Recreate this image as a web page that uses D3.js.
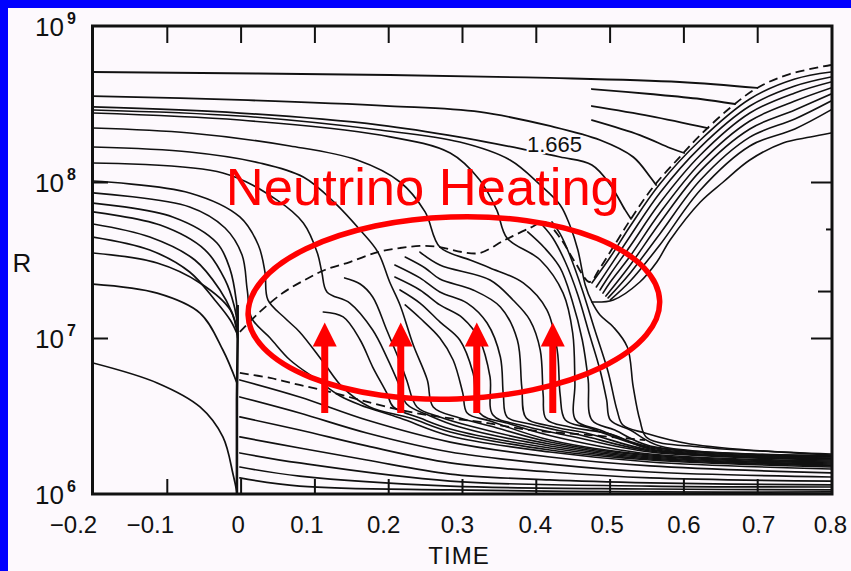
<!DOCTYPE html>
<html>
<head>
<meta charset="utf-8">
<script src="https://cdn.jsdelivr.net/npm/d3@7"></script>
<style>
  html, body { margin: 0; padding: 0; background: #fdf9fd; }
  svg { display: block; }
</style>
</head>
<body>
<svg id="chart" width="851" height="571"></svg>
<script>
// ---- axis values --------------------------------------------------------
const xTickValues = [-0.2, -0.1, 0, 0.1, 0.2, 0.3, 0.4, 0.5, 0.6, 0.7, 0.8];
const xTickLabels = ["\u22120.2", "\u22120.1", "0", "0.1", "0.2", "0.3", "0.4", "0.5", "0.6", "0.7", "0.8"];
const yDecades = [6, 7, 8, 9];
const xTitle = "TIME";
const yTitle = "R";

// ---- trajectories: [time (s), log10 R (cm)] -----------------------------
// shock front (dashed)
const shockFront = [[-0.001,7.039],[0.026,7.167],[0.057,7.288],[0.087,7.372],[0.114,7.436],[0.148,7.487],[0.186,7.551],[0.216,7.577],[0.243,7.590],[0.270,7.583],[0.300,7.551],[0.324,7.545],[0.358,7.628],[0.392,7.705],[0.412,7.744],[0.433,7.641],[0.453,7.487],[0.473,7.359],[0.487,7.449],[0.505,7.583],[0.528,7.757],[0.559,7.968],[0.595,8.160],[0.623,8.301],[0.663,8.474],[0.700,8.603],[0.744,8.692],[0.8,8.750]];
// lower edge of the heated layer (dashed)
const gainEdge = [[-0.001,6.776],[0.040,6.744],[0.080,6.699],[0.121,6.654],[0.162,6.603],[0.216,6.539],[0.270,6.494],[0.324,6.462],[0.392,6.410],[0.473,6.378],[0.548,6.346]];
// core bounce
const bounceTrack = [[-0.004,7.212],[-0.004,6.987],[-0.005,6.603],[-0.005,6.218],[-0.005,6.006]];

// shells falling straight into the core before bounce
const infallShells = [
  [[-0.2,7.865],[-0.092,7.776],[-0.032,7.609],[-0.014,7.436],[-0.006,7.244],[-0.004,7.115]],
  [[-0.2,7.808],[-0.109,7.724],[-0.048,7.564],[-0.021,7.372],[-0.009,7.212],[-0.004,7.083]],
  [[-0.2,7.731],[-0.123,7.647],[-0.062,7.500],[-0.028,7.308],[-0.012,7.167],[-0.004,7.051]],
  [[-0.2,7.647],[-0.123,7.564],[-0.069,7.423],[-0.035,7.244],[-0.014,7.115],[-0.004,7.019]],
  [[-0.2,7.545],[-0.113,7.481],[-0.055,7.353],[-0.014,7.180],[-0.004,7.000]],
  [[-0.2,7.346],[-0.113,7.288],[-0.055,7.160],[-0.024,6.923],[-0.005,6.712]],
  [[-0.2,6.840],[-0.113,6.712],[-0.055,6.558],[-0.024,6.366],[-0.010,6.122],[-0.005,6.013]]
];

// inner core shells after bounce
const coreShells = [
  [[-0.001,6.103],[0.080,6.051],[0.284,6.026],[0.555,6.013],[0.8,6.013]],
  [[-0.001,6.173],[0.080,6.115],[0.284,6.051],[0.555,6.032],[0.8,6.026]],
  [[-0.001,6.263],[0.080,6.199],[0.284,6.083],[0.555,6.051],[0.8,6.045]],
  [[-0.001,6.366],[0.080,6.295],[0.171,6.218],[0.284,6.128],[0.419,6.090],[0.555,6.071],[0.8,6.058]],
  [[-0.001,6.494],[0.080,6.410],[0.171,6.308],[0.284,6.199],[0.419,6.141],[0.555,6.103],[0.8,6.083]],
  [[-0.001,6.622],[0.080,6.519],[0.171,6.391],[0.284,6.269],[0.419,6.192],[0.555,6.141],[0.8,6.109]],
  [[-0.001,6.731],[0.080,6.622],[0.171,6.474],[0.284,6.333],[0.419,6.237],[0.555,6.180],[0.8,6.135]]
];

// shells crossing the stalled shock and settling onto the core
const heatedShells = [
  [[-0.2,7.930],[-0.069,7.840],[-0.021,7.705],[0.002,7.532],[0.009,7.308],[0.015,7.128],[0.040,7.000],[0.067,6.859],[0.104,6.731],[0.135,6.628],[0.162,6.571],[0.216,6.487],[0.284,6.372],[0.419,6.269],[0.555,6.205],[0.8,6.160]],
  [[-0.2,8.006],[-0.069,7.930],[-0.001,7.776],[0.024,7.596],[0.033,7.423],[0.037,7.244],[0.060,7.128],[0.080,7.039],[0.112,6.846],[0.139,6.680],[0.175,6.558],[0.230,6.487],[0.284,6.398],[0.419,6.282],[0.555,6.218],[0.8,6.173]],
  [[0.112,7.167],[0.139,7.135],[0.162,6.987],[0.179,6.814],[0.198,6.648],[0.207,6.558],[0.243,6.487],[0.284,6.417],[0.419,6.295],[0.555,6.224],[0.8,6.180]],
  [[-0.2,8.122],[-0.024,8.058],[0.049,7.885],[0.085,7.737],[0.104,7.545],[0.110,7.423],[0.117,7.295],[0.148,7.224],[0.179,7.051],[0.198,6.878],[0.216,6.686],[0.225,6.577],[0.257,6.500],[0.297,6.429],[0.419,6.308],[0.555,6.231],[0.8,6.186]],
  [[0.141,7.385],[0.162,7.346],[0.179,7.263],[0.198,7.051],[0.216,6.846],[0.225,6.731],[0.239,6.558],[0.270,6.494],[0.311,6.436],[0.419,6.321],[0.555,6.237],[0.8,6.192]],
  [[-0.2,8.224],[-0.069,8.192],[0.026,8.122],[0.085,8.032],[0.128,7.865],[0.162,7.692],[0.186,7.551],[0.202,7.359],[0.216,7.212],[0.234,6.955],[0.253,6.731],[0.261,6.558],[0.297,6.487],[0.338,6.436],[0.419,6.333],[0.555,6.244],[0.8,6.199]],
  [[0.223,7.212],[0.243,7.128],[0.270,7.000],[0.288,6.859],[0.301,6.648],[0.307,6.519],[0.338,6.468],[0.419,6.346],[0.555,6.250],[0.8,6.205]],
  [[0.216,7.308],[0.243,7.224],[0.270,7.103],[0.297,6.987],[0.315,6.776],[0.324,6.519],[0.365,6.449],[0.433,6.359],[0.555,6.256],[0.8,6.212]],
  [[0.209,7.391],[0.243,7.308],[0.270,7.212],[0.301,7.128],[0.324,6.987],[0.338,6.750],[0.342,6.506],[0.379,6.442],[0.446,6.372],[0.555,6.269],[0.8,6.218]],
  [[0.209,7.468],[0.243,7.385],[0.270,7.295],[0.307,7.224],[0.334,7.096],[0.352,6.878],[0.356,6.635],[0.361,6.494],[0.392,6.449],[0.460,6.378],[0.555,6.276],[0.8,6.224]],
  [[0.223,7.519],[0.250,7.449],[0.270,7.378],[0.315,7.308],[0.352,7.199],[0.375,6.987],[0.381,6.686],[0.387,6.487],[0.419,6.436],[0.473,6.385],[0.555,6.282],[0.8,6.226]],
  [[0.243,7.551],[0.270,7.468],[0.338,7.372],[0.369,7.244],[0.392,7.115],[0.406,6.923],[0.410,6.635],[0.414,6.481],[0.446,6.429],[0.501,6.385],[0.555,6.289],[0.8,6.231]],
  [[-0.2,8.346],[-0.069,8.314],[0.067,8.231],[0.158,8.141],[0.216,8.0],[0.250,7.808],[0.270,7.583],[0.311,7.500],[0.338,7.449],[0.383,7.353],[0.415,7.180],[0.429,6.923],[0.433,6.635],[0.440,6.474],[0.473,6.423],[0.555,6.295],[0.8,6.237]],
  [[-0.2,8.442],[-0.001,8.397],[0.189,8.301],[0.284,8.186],[0.324,8.013],[0.347,7.821],[0.361,7.641],[0.406,7.500],[0.437,7.288],[0.450,7.032],[0.453,6.712],[0.454,6.474],[0.487,6.410],[0.555,6.301],[0.8,6.240]],
  [[0.389,7.680],[0.412,7.577],[0.433,7.449],[0.449,7.244],[0.463,6.987],[0.471,6.731],[0.476,6.474],[0.507,6.410],[0.555,6.308],[0.8,6.244]],
  [[0.410,7.718],[0.423,7.641],[0.440,7.487],[0.457,7.276],[0.473,7.019],[0.487,6.795],[0.496,6.603],[0.501,6.474],[0.528,6.410],[0.568,6.308],[0.8,6.247]],
  [[0.422,7.744],[0.433,7.667],[0.446,7.532],[0.463,7.308],[0.480,7.051],[0.498,6.782],[0.510,6.539],[0.518,6.442],[0.548,6.391],[0.609,6.321],[0.8,6.250]],
  [[-0.2,8.462],[-0.001,8.423],[0.189,8.333],[0.297,8.256],[0.365,8.141],[0.406,7.981],[0.433,7.853],[0.446,7.724],[0.457,7.564],[0.467,7.340],[0.476,7.231],[0.487,7.147],[0.505,7.071],[0.524,6.942],[0.532,6.686],[0.541,6.474],[0.551,6.359],[0.623,6.301],[0.704,6.276],[0.8,6.256]]
];

// outer shells overtaken by the revived shock
const outerShells = [
  [[-0.2,8.705],[0.202,8.686],[0.419,8.667],[0.595,8.641],[0.700,8.603]],
  [[0.476,8.596],[0.555,8.564],[0.623,8.532],[0.670,8.500]],
  [[0.476,8.487],[0.555,8.423],[0.633,8.346]],
  [[0.476,8.397],[0.541,8.301],[0.582,8.218],[0.601,8.186]],
  [[-0.2,8.551],[-0.001,8.526],[0.202,8.487],[0.324,8.449],[0.419,8.359],[0.487,8.269],[0.532,8.160],[0.555,8.032],[0.563,7.981]]
];
// the shell carrying the mass label
const markedShell = [[-0.2,8.481],[-0.001,8.442],[0.189,8.365],[0.297,8.288],[0.388,8.205],[0.433,8.160],[0.476,8.109],[0.501,7.981],[0.521,7.821],[0.529,7.763]];
const markedShellLabel = "1.665";
const markedLabelAt = [0.388, 8.192];

// ejected shells behind the outgoing shock
const ejectaShells = [
  [[0.476,7.353],[0.501,7.519],[0.528,7.718],[0.568,7.987],[0.623,8.269],[0.690,8.532],[0.751,8.660],[0.8,8.705]],
  [[0.482,7.327],[0.501,7.462],[0.528,7.654],[0.568,7.930],[0.623,8.224],[0.690,8.487],[0.751,8.615],[0.8,8.673]],
  [[0.487,7.308],[0.501,7.410],[0.528,7.590],[0.568,7.865],[0.623,8.173],[0.690,8.442],[0.751,8.571],[0.8,8.641]],
  [[0.491,7.288],[0.501,7.359],[0.528,7.526],[0.568,7.801],[0.623,8.122],[0.690,8.391],[0.751,8.519],[0.8,8.603]],
  [[0.495,7.269],[0.528,7.468],[0.568,7.737],[0.623,8.071],[0.690,8.340],[0.751,8.462],[0.8,8.564]],
  [[0.498,7.257],[0.528,7.417],[0.568,7.667],[0.623,8.013],[0.690,8.288],[0.751,8.404],[0.8,8.519]],
  [[0.501,7.244],[0.528,7.365],[0.568,7.596],[0.623,7.949],[0.690,8.231],[0.751,8.340],[0.8,8.462]],
  [[0.476,7.231],[0.505,7.244],[0.541,7.359],[0.564,7.487],[0.582,7.628],[0.623,7.872],[0.654,8.0],[0.690,8.141],[0.735,8.250],[0.772,8.288],[0.8,8.314]]
];

// ---- annotation values --------------------------------------------------
const noteText = "Neutrino Heating";
const noteAt = [-0.020, 7.850];
const heatingRegionT = [0.010, 0.568];
const heatingRegionLg = [6.609, 7.776];
const arrowTimes = [0.114, 0.217, 0.320, 0.423];
const arrowLg = [6.52, 7.10];

// ---- drawing ------------------------------------------------------------
const W = 851, H = 571;
const svg = d3.select("#chart");
const ink = "#111";
const red = "#ff0000";
const font = "'Liberation Sans', Arial, sans-serif";

svg.append("rect").attr("width", W).attr("height", H).attr("fill", "#fdf9fd");
svg.append("rect").attr("x", 0).attr("y", 0).attr("width", W).attr("height", 8).attr("fill", "#0000ff");
svg.append("rect").attr("x", 0).attr("y", 0).attr("width", 8).attr("height", H).attr("fill", "#0000ff");

const x = d3.scaleLinear().domain([-0.2, 0.8]).range([93, 831]);
const y = d3.scaleLog().domain([1e6, 1e9]).range([494, 26]);
const [x0, x1] = x.range();
const [yb, yt] = y.range();

svg.append("clipPath").attr("id", "plotArea")
  .append("rect").attr("x", x0).attr("y", yt).attr("width", x1 - x0).attr("height", yb - yt);

const px = d => x(d[0]);
const py = d => y(Math.pow(10, d[1]));
const smooth = d3.line().x(px).y(py).curve(d3.curveCatmullRom.alpha(0.5));
const straight = d3.line().x(px).y(py);

const plot = svg.append("g").attr("clip-path", "url(#plotArea)");

function drawShells(list, width) {
  plot.append("g").selectAll("path").data(list).join("path")
    .attr("d", smooth).attr("fill", "none")
    .attr("stroke", ink).attr("stroke-width", width)
    .attr("stroke-linejoin", "round").attr("stroke-linecap", "round");
}
drawShells(infallShells, 1.7);
drawShells(coreShells, 1.7);
drawShells(heatedShells, 1.6);
drawShells(outerShells, 1.8);
drawShells([markedShell], 1.7);
drawShells(ejectaShells, 1.6);

plot.append("path").datum(bounceTrack).attr("d", straight)
  .attr("fill", "none").attr("stroke", ink).attr("stroke-width", 2.6);

plot.append("path").datum(shockFront).attr("d", smooth)
  .attr("fill", "none").attr("stroke", ink).attr("stroke-width", 1.8)
  .attr("stroke-dasharray", "9,5");
plot.append("path").datum(gainEdge).attr("d", smooth)
  .attr("fill", "none").attr("stroke", ink).attr("stroke-width", 1.8)
  .attr("stroke-dasharray", "9,5");

// frame
svg.append("rect").attr("x", x0 - 0.5).attr("y", yt).attr("width", x1 - x0 + 1.5).attr("height", yb - yt)
  .attr("fill", "none").attr("stroke", ink).attr("stroke-width", 3);

// inward ticks on all four sides
const innerT = xTickValues.slice(1, -1);
const tickStyle = g => {
  g.select(".domain").remove();
  g.selectAll(".tick line").attr("stroke", ink).attr("stroke-width", 2);
  g.selectAll(".tick text").remove();
};
svg.append("g").attr("transform", `translate(0,${yt})`)
  .call(d3.axisTop(x).tickValues(innerT).tickSize(-17).tickFormat(""))
  .call(tickStyle);
svg.append("g").attr("transform", `translate(0,${yb})`)
  .call(d3.axisBottom(x).tickValues(innerT).tickSize(-15).tickFormat(""))
  .call(tickStyle);
svg.append("g").attr("transform", `translate(${x0},0)`)
  .call(d3.axisLeft(y).tickValues([1e7, 1e8]).tickSize(-15).tickFormat(""))
  .call(tickStyle);
svg.append("g").attr("transform", `translate(${x1},0)`)
  .call(d3.axisRight(y).tickValues([1e7, 1e8]).tickSize(-20).tickFormat(""))
  .call(tickStyle);
svg.append("g").attr("transform", `translate(${x1},0)`)
  .call(d3.axisRight(y).tickValues([2e7]).tickSize(-13).tickFormat(""))
  .call(tickStyle);
svg.append("g").attr("transform", `translate(${x1},0)`)
  .call(d3.axisRight(y).tickValues([5e7]).tickSize(-5).tickFormat(""))
  .call(tickStyle);

// x tick labels
const labelNudge = [-20, -17, -3, -8, -5, -5, -1, -3, 0, 1, -1];
const xl = svg.append("g").attr("transform", `translate(0,${yb})`)
  .call(d3.axisBottom(x).tickValues(xTickValues).tickSize(0).tickPadding(0)
    .tickFormat((d, i) => xTickLabels[i]));
xl.select(".domain").remove();
xl.selectAll(".tick text")
  .attr("fill", ink).attr("font-family", font).attr("font-size", 24)
  .attr("dy", null).attr("y", 39)
  .attr("dx", (d, i) => labelNudge[i]);

// y decade labels 10^n
const yl = svg.append("g");
yDecades.forEach(e => {
  const yy = y(Math.pow(10, e));
  yl.append("text").attr("x", 64).attr("y", yy + 10)
    .attr("text-anchor", "end").attr("font-family", font).attr("font-size", 26)
    .attr("fill", ink).text("10");
  yl.append("text").attr("x", 67).attr("y", yy - 2)
    .attr("font-family", font).attr("font-size", 16).attr("font-weight", "bold")
    .attr("fill", ink).text(String(e));
});

// axis titles
svg.append("text").attr("x", (x0 + x1) / 2 - 3).attr("y", 564)
  .attr("text-anchor", "middle").attr("font-family", font).attr("font-size", 24)
  .attr("letter-spacing", 1).attr("fill", ink).text(xTitle);
svg.append("text").attr("x", 22).attr("y", 272)
  .attr("text-anchor", "middle").attr("font-family", font).attr("font-size", 26)
  .attr("fill", ink).text(yTitle);

// mass label on its shell
svg.append("text").attr("x", x(markedLabelAt[0])).attr("y", y(Math.pow(10, markedLabelAt[1])))
  .attr("font-family", font).attr("font-size", 22).attr("fill", ink)
  .attr("stroke", "#fdf9fd").attr("stroke-width", 4).attr("paint-order", "stroke")
  .text(markedShellLabel);

// red annotation: heating region ellipse
const ex0 = x(heatingRegionT[0]), ex1 = x(heatingRegionT[1]);
const ey0 = y(Math.pow(10, heatingRegionLg[1])), ey1 = y(Math.pow(10, heatingRegionLg[0]));
const ecx = (ex0 + ex1) / 2, ecy = (ey0 + ey1) / 2;
svg.append("ellipse").attr("cx", ecx).attr("cy", ecy)
  .attr("rx", (ex1 - ex0) / 2).attr("ry", (ey1 - ey0) / 2)
  .attr("transform", `rotate(-2,${ecx},${ecy})`)
  .attr("fill", "none").attr("stroke", red).attr("stroke-width", 5.5);

// red arrows
const shaftHalf = 3.5, headHalf = 12, headLen = 24;
svg.append("g").selectAll("path").data(arrowTimes).join("path")
  .attr("d", t => {
    const cx = x(t);
    const yBase = y(Math.pow(10, arrowLg[0]));
    const yTip = y(Math.pow(10, arrowLg[1]));
    const yHead = yTip + headLen;
    return `M${cx - shaftHalf},${yBase}L${cx - shaftHalf},${yHead}L${cx - headHalf},${yHead}` +
           `L${cx},${yTip}L${cx + headHalf},${yHead}L${cx + shaftHalf},${yHead}L${cx + shaftHalf},${yBase}Z`;
  })
  .attr("fill", red);

// red caption
svg.append("text").attr("x", x(noteAt[0])).attr("y", y(Math.pow(10, noteAt[1])))
  .attr("font-family", font).attr("font-size", 52.5).attr("fill", red)
  .text(noteText);
</script>
</body>
</html>
